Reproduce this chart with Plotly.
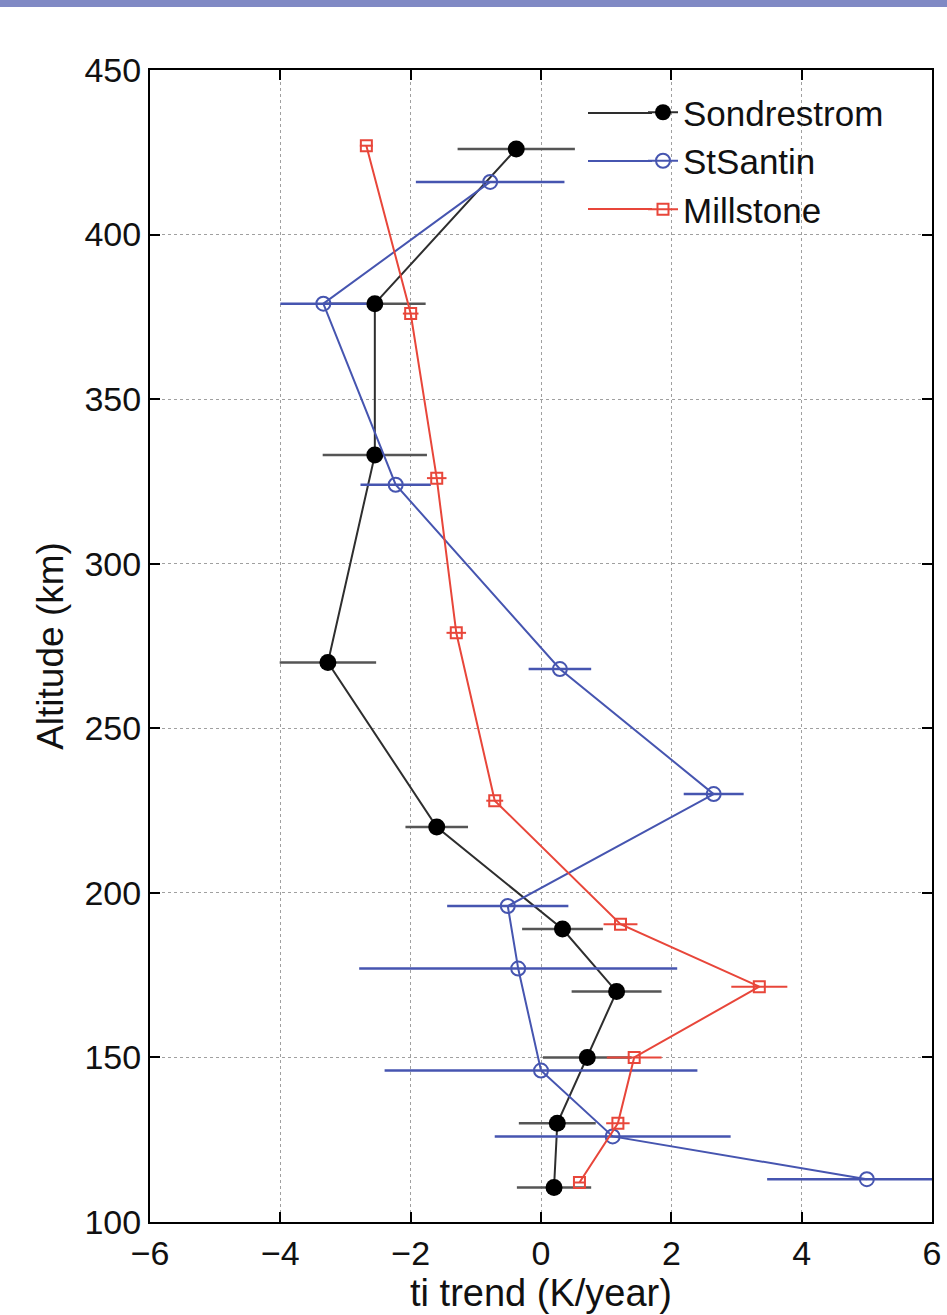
import plotly.graph_objects as go

# Sondrestrom
sond_alt = [426, 379, 333, 270, 220, 189, 170, 150, 130, 110.5]
sond_trend = [-0.38, -2.55, -2.55, -3.27, -1.6, 0.33, 1.16, 0.71, 0.25, 0.2]
sond_err = [0.9, 0.78, 0.8, 0.74, 0.48, 0.62, 0.69, 0.68, 0.59, 0.57]

# StSantin
stsa_alt = [416, 379, 324, 268, 230, 196, 177, 146, 126, 113]
stsa_trend = [-0.78, -3.34, -2.23, 0.29, 2.65, -0.51, -0.35, 0.0, 1.1, 5.0]
stsa_err = [1.14, 0.66, 0.54, 0.48, 0.46, 0.93, 2.44, 2.4, 1.81, 1.53]

# Millstone
mill_alt = [427, 376, 326, 279, 228, 190.5, 171.5, 150, 130, 112]
mill_trend = [-2.68, -2.0, -1.6, -1.3, -0.71, 1.22, 3.35, 1.43, 1.18, 0.59]
mill_err = [0.1, 0.12, 0.15, 0.15, 0.13, 0.26, 0.43, 0.42, 0.18, 0.08]

x_ticks = [-6, -4, -2, 0, 2, 4, 6]
y_ticks = [100, 150, 200, 250, 300, 350, 400, 450]

FONT = "Liberation Sans, Arial, Helvetica, sans-serif"

series_colors = {"Sondrestrom": "#2e2e2e", "StSantin": "#4655b0", "Millstone": "#e8463a"}

fig = go.Figure()

fig.add_trace(go.Scatter(
    x=sond_trend, y=sond_alt, name="Sondrestrom", mode="lines+markers",
    line=dict(color=series_colors["Sondrestrom"], width=2),
    marker=dict(symbol="circle", size=17, color="black"),
    error_x=dict(type="data", array=sond_err, visible=True, color="#555555",
                 thickness=2.5, width=0),
))
fig.add_trace(go.Scatter(
    x=stsa_trend, y=stsa_alt, name="StSantin", mode="lines+markers",
    line=dict(color=series_colors["StSantin"], width=2),
    marker=dict(symbol="circle-open", size=14, color=series_colors["StSantin"],
                line=dict(width=2, color=series_colors["StSantin"])),
    error_x=dict(type="data", array=stsa_err, visible=True, color=series_colors["StSantin"],
                 thickness=2.5, width=0),
))
fig.add_trace(go.Scatter(
    x=mill_trend, y=mill_alt, name="Millstone", mode="lines+markers",
    line=dict(color=series_colors["Millstone"], width=2),
    marker=dict(symbol="square-open", size=11, color=series_colors["Millstone"],
                line=dict(width=2, color=series_colors["Millstone"])),
    error_x=dict(type="data", array=mill_err, visible=True, color=series_colors["Millstone"],
                 thickness=2, width=0),
))

axis_common = dict(
    showline=True, linecolor="black", linewidth=2, mirror="allticks",
    ticks="inside", ticklen=10, tickwidth=1.5, tickcolor="black",
    showgrid=True, gridcolor="#a0a0a0", gridwidth=1, griddash="dot",
    zeroline=False, automargin=False,
    tickfont=dict(family=FONT, size=34, color="#111111"),
)

fig.update_xaxes(range=[-6, 6], tickvals=x_ticks,
                 ticktext=["\u22126", "\u22124", "\u22122", "0", "2", "4", "6"],
                 title=dict(text="ti trend (K/year)", font=dict(family=FONT, size=38, color="#111111"),
                            standoff=4),
                 **axis_common)
fig.update_yaxes(range=[100, 450], tickvals=y_ticks,
                 title=dict(text="Altitude (km)", font=dict(family=FONT, size=37, color="#111111"),
                            standoff=10),
                 **axis_common)

# top colour band of the page
fig.add_shape(type="rect", xref="paper", yref="paper",
              x0=-0.2, x1=1.03, y0=1 + 63 / 1152, y1=1 + 70 / 1152,
              fillcolor="#8089c4", line=dict(width=0), layer="above")

# longer legend sample lines (extend to the left of the native legend symbols)
PW, PH = 782.0, 1152.0
LEG_FONT = 35
row_h = 48
first_row = 113
for i, name in enumerate(["Sondrestrom", "StSantin", "Millstone"]):
    ypx = first_row + row_h * i
    yp = 1 - (ypx - 70) / PH
    fig.add_shape(type="line", xref="paper", yref="paper",
                  x0=(588 - 150) / PW, x1=(652 - 150) / PW, y0=yp, y1=yp,
                  line=dict(color=series_colors[name], width=2), layer="above")

fig.update_layout(
    width=947, height=1315,
    margin=dict(l=150, r=15, t=70, b=93),
    paper_bgcolor="white", plot_bgcolor="white",
    font=dict(family=FONT, color="#111111"),
    showlegend=True,
    legend=dict(x=(643 - 150) / PW, y=1 - (first_row - 70 - row_h / 2 - 6) / PH,
                xanchor="left", yanchor="top",
                bgcolor="rgba(0,0,0,0)", borderwidth=0,
                font=dict(family=FONT, size=LEG_FONT, color="#111111"),
                itemwidth=30, tracegroupgap=0),
)

fig.write_html("out.html")
